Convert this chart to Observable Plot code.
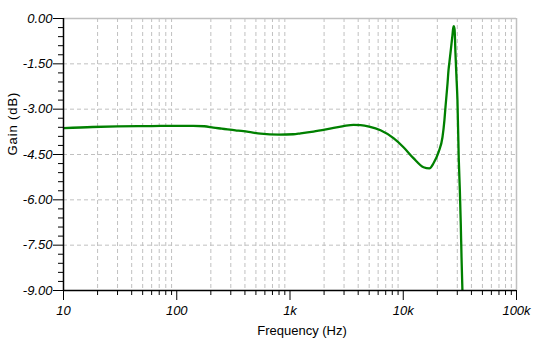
<!DOCTYPE html>
<html><head><meta charset="utf-8">
<script src="https://cdn.jsdelivr.net/npm/d3@7"></script>
<script src="https://cdn.jsdelivr.net/npm/@observablehq/plot@0.6"></script>
<style>
body{margin:0;background:#fff;}
#chart text{font-family:"Liberation Sans",Arial,sans-serif;}
#chart g[aria-label="x-axis tick label"] text, #chart g[aria-label="y-axis tick label"] text{font-style:italic;}
#chart .ylab text{letter-spacing:0.9px;}
</style>
</head><body><div id="chart"></div>
<script>
const freq = [10, 18, 30, 60, 100, 140, 175, 211, 250, 281, 330, 388, 460, 550, 800, 1070, 1240, 1610, 2140, 2970, 3640, 4200, 5000, 6300, 8200, 10050, 12300, 15100, 17000, 18500, 20500, 22200, 23100, 23600, 24100, 24600, 25100, 25600, 26100, 26700, 27200, 27600, 27900, 28400, 28900, 29500, 30100, 30900, 31600, 32200, 32700, 33300];
const gain = [-3.63, -3.59, -3.57, -3.56, -3.55, -3.55, -3.565, -3.61, -3.645, -3.67, -3.70, -3.73, -3.77, -3.81, -3.84, -3.83, -3.80, -3.74, -3.66, -3.56, -3.52, -3.53, -3.58, -3.70, -3.96, -4.26, -4.62, -4.92, -4.96, -4.79, -4.42, -3.93, -3.36, -2.93, -2.54, -2.15, -1.71, -1.43, -1.15, -0.82, -0.55, -0.32, -0.25, -0.36, -1.15, -1.93, -2.70, -4.62, -5.68, -6.78, -7.90, -9.0];
const xMajor = [10, 100, 1000, 10000, 100000];
const xMajorLabels = ["10", "100", "1k", "10k", "100k"];
const yMajor = [0, -1.5, -3, -4.5, -6, -7.5, -9];

const xMinor = [];
for (const d of [10, 100, 1000, 10000]) for (let k = 2; k <= 9; k++) xMinor.push(d * k);
const yMinor = d3.range(0, 31).map(i => -i * 0.3).filter(v => Math.abs((v / 1.5) - Math.round(v / 1.5)) > 1e-6);
const data = freq.map((f, i) => ({f, g: gain[i]}));
const grid = "#c0c0c0";

const chart = Plot.plot({
  width: 539, height: 348,
  marginLeft: 63, marginRight: 23, marginTop: 18, marginBottom: 58,
  style: {fontSize: "13px", color: "#000", background: "#fff", overflow: "visible"},
  x: {type: "log", domain: [10, 100000]},
  y: {domain: [-9, 0]},
  marks: [
    Plot.ruleX(xMinor, {stroke: grid, strokeDasharray: "4,3"}),
    Plot.ruleY(yMajor.filter(v => v !== 0 && v !== -9), {stroke: grid, strokeDasharray: "4,3"}),
    Plot.ruleY([0], {stroke: grid, strokeWidth: 1.5}),
    Plot.ruleX([100000], {stroke: grid, strokeWidth: 1.5}),
    Plot.line(data, {x: "f", y: "g", stroke: "#008000", strokeWidth: 2.3, curve: "monotone-x", clip: true}),
    Plot.ruleY([-9], {stroke: "#000", strokeWidth: 1.5}),
    Plot.ruleX([10], {stroke: "#000", strokeWidth: 1.5}),
    Plot.axisX(xMinor, {tickSize: 5, stroke: "#000", text: null, label: null}),
    Plot.axisX(xMajor, {tickSize: 10, tickPadding: 5, stroke: "#000", tickFormat: d => xMajorLabels[xMajor.indexOf(d)], label: null}),
    Plot.axisY(yMinor, {tickSize: 5, stroke: "#000", text: null, label: null}),
    Plot.axisY(yMajor, {tickSize: 10, tickPadding: 1, stroke: "#000", tickFormat: d => d.toFixed(2), label: null}),
    Plot.text(["Frequency (Hz)"], {frameAnchor: "bottom", dx: 12, dy: 44, fontSize: 13}),
    Plot.text(["Gain (dB)"], {frameAnchor: "left", dx: -51, dy: 1, rotate: -90, fontSize: 13, className: "ylab"})
  ]
});
document.getElementById("chart").appendChild(chart);
</script>
</body></html>
